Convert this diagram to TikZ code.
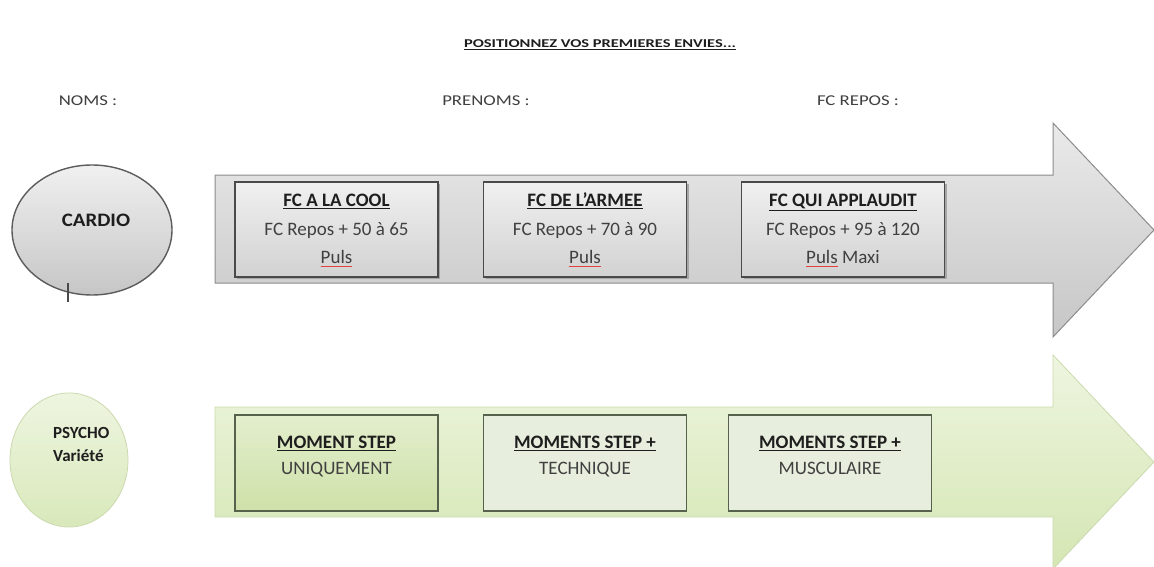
\documentclass[tikz,border=0pt]{standalone}
\usepackage{fontspec}
\setmainfont{Carlito}
\usetikzlibrary{shapes.geometric}
\definecolor{grayedge}{HTML}{8C8C8C}
\definecolor{graytop}{HTML}{EAEAEA}
\definecolor{graybot}{HTML}{C6C6C6}
\definecolor{boxtop}{HTML}{F0F0F0}
\definecolor{boxbot}{HTML}{D2D2D2}
\definecolor{boxedge}{HTML}{4A4A4A}
\definecolor{greentop}{HTML}{EEF5E0}
\definecolor{greenbot}{HTML}{D5E6B3}
\definecolor{greenedge}{HTML}{CBDAAE}
\definecolor{gboxtop}{HTML}{E3EECD}
\definecolor{gboxbot}{HTML}{CFE1A9}
\definecolor{gboxfill}{HTML}{E8EEDD}
\definecolor{gboxedge}{HTML}{56624C}
\definecolor{bodytext}{HTML}{404040}
\definecolor{titletext}{HTML}{1E1E1E}
\definecolor{spellred}{HTML}{E04040}
\newcommand\spellul[1]{\setbox0\hbox{#1}\rlap{\copy0}{\color{spellred}\raisebox{-3pt}{\rule{\wd0}{0.7pt}}}}
\tikzset{
  graybox/.style={draw=boxedge, line width=1.4pt, top color=boxtop, bottom color=boxbot,
    minimum width=203pt, minimum height=95pt, inner sep=0pt},
  greenboxA/.style={draw=gboxedge, line width=1.4pt, top color=gboxtop, bottom color=gboxbot,
    minimum width=203pt, minimum height=96pt, inner sep=0pt},
  greenboxB/.style={draw=gboxedge, line width=1.4pt, fill=gboxfill,
    minimum width=203pt, minimum height=96pt, inner sep=0pt},
  boxtext/.style={align=center, text=bodytext, font=\fontsize{19}{28.5}\selectfont, inner sep=0pt},
  gtext/.style={align=center, text=bodytext, font=\fontsize{19}{26}\selectfont, inner sep=0pt},
  headlabel/.style={text=bodytext, font=\fontsize{15}{18}\selectfont, inner sep=0pt},
  shadowbox/.style={fill=black!35, minimum width=203pt, minimum height=95pt, inner sep=0pt, draw=none},
}
\newcommand\ttl[1]{\textcolor{titletext}{\underline{\textbf{#1}}}}
\begin{document}
\begin{tikzpicture}[x=1pt,y=-1pt]
\useasboundingbox (0,0) rectangle (1154,567);
\fill[white] (0,0) rectangle (1154,567);

% title and header labels
\node[inner sep=0pt, text=titletext, font=\fontsize{12}{14}\selectfont\bfseries] (title) at (600,45)
  {\scalebox{1.37}[1]{\underline{POSITIONNEZ VOS PREMIERES ENVIES...}}};
\node[headlabel] (noms) at (88,101) {\scalebox{1.25}[1]{NOMS :}};
\node[headlabel] (prenoms) at (486,101) {\scalebox{1.25}[1]{PRENOMS :}};
\node[headlabel] (fcrepos) at (858,101) {\scalebox{1.25}[1]{FC REPOS :}};

% gray arrow
\shade[top color=graytop, bottom color=graybot, draw=grayedge, line width=1pt]
  (215,175) -- (1053,175) -- (1053,123) -- (1154,230) -- (1053,337) -- (1053,283) -- (215,283) -- cycle;

% green arrow
\shade[top color=greentop, bottom color=greenbot, draw=greenedge, line width=0.8pt]
  (215,407) -- (1053,407) -- (1053,355) -- (1154,462) -- (1053,569) -- (1053,517) -- (215,517) -- cycle;

% CARDIO ellipse
\node[ellipse, draw=boxedge!90, line width=1.4pt, top color=boxtop, bottom color=graybot,
  minimum width=160pt, minimum height=130pt, inner sep=0pt] (cardio) at (92,230) {};
\node[inner sep=0pt, text=titletext, font=\fontsize{19}{22}\selectfont\bfseries] (cardiotxt) at (96,220) {\scalebox{1.1}[1]{CARDIO}};
\coordinate (ticktop) at (68,283);
\coordinate (tickbot) at (68,302);
\draw[boxedge, line width=1.2pt] (ticktop) -- (tickbot);

% PSYCHO circle
\node[ellipse, draw=greenedge, line width=0.8pt, top color=greentop, bottom color=greenbot!90,
  minimum width=118pt, minimum height=134pt, inner sep=0pt] (psycho) at (69,460) {};
\node[inner sep=0pt, align=left, text=titletext, font=\fontsize{17}{23}\selectfont\bfseries,
  anchor=north west] (psychotxt) at (53,427) {PSYCHO\\Variété};

% gray boxes (with shadow)
\node[shadowbox] (s1) at (338,231) {};
\node[shadowbox] (s2) at (587,231) {};
\node[shadowbox] (s3) at (845,231) {};
\node[graybox] (b1) at (336.5,229.5) {};
\node[graybox] (b2) at (585,229.5) {};
\node[graybox] (b3) at (843,229.5) {};
\node[boxtext] (t1) at (b1.center) {\strut\ttl{FC A LA COOL}\\\strut FC Repos + 50 à 65\\\strut\spellul{Puls}};
\node[boxtext] (t2) at (b2.center) {\strut\ttl{FC DE L’ARMEE}\\\strut FC Repos + 70 à 90\\\strut\spellul{Puls}};
\node[boxtext] (t3) at (b3.center) {\strut\ttl{FC QUI APPLAUDIT}\\\strut FC Repos + 95 à 120\\\strut\spellul{Puls} Maxi};

% green boxes
\node[greenboxA] (g1) at (336.5,463) {};
\node[greenboxB] (g2) at (585,463) {};
\node[greenboxB] (g3) at (830,463) {};
\node[gtext] (u1) at ([yshift=7pt]g1.center) {\strut\ttl{MOMENT STEP}\\\strut UNIQUEMENT};
\node[gtext] (u2) at ([yshift=7pt]g2.center) {\strut\ttl{MOMENTS STEP +}\\\strut TECHNIQUE};
\node[gtext] (u3) at ([yshift=7pt]g3.center) {\strut\ttl{MOMENTS STEP +}\\\strut MUSCULAIRE};
\end{tikzpicture}
\end{document}
